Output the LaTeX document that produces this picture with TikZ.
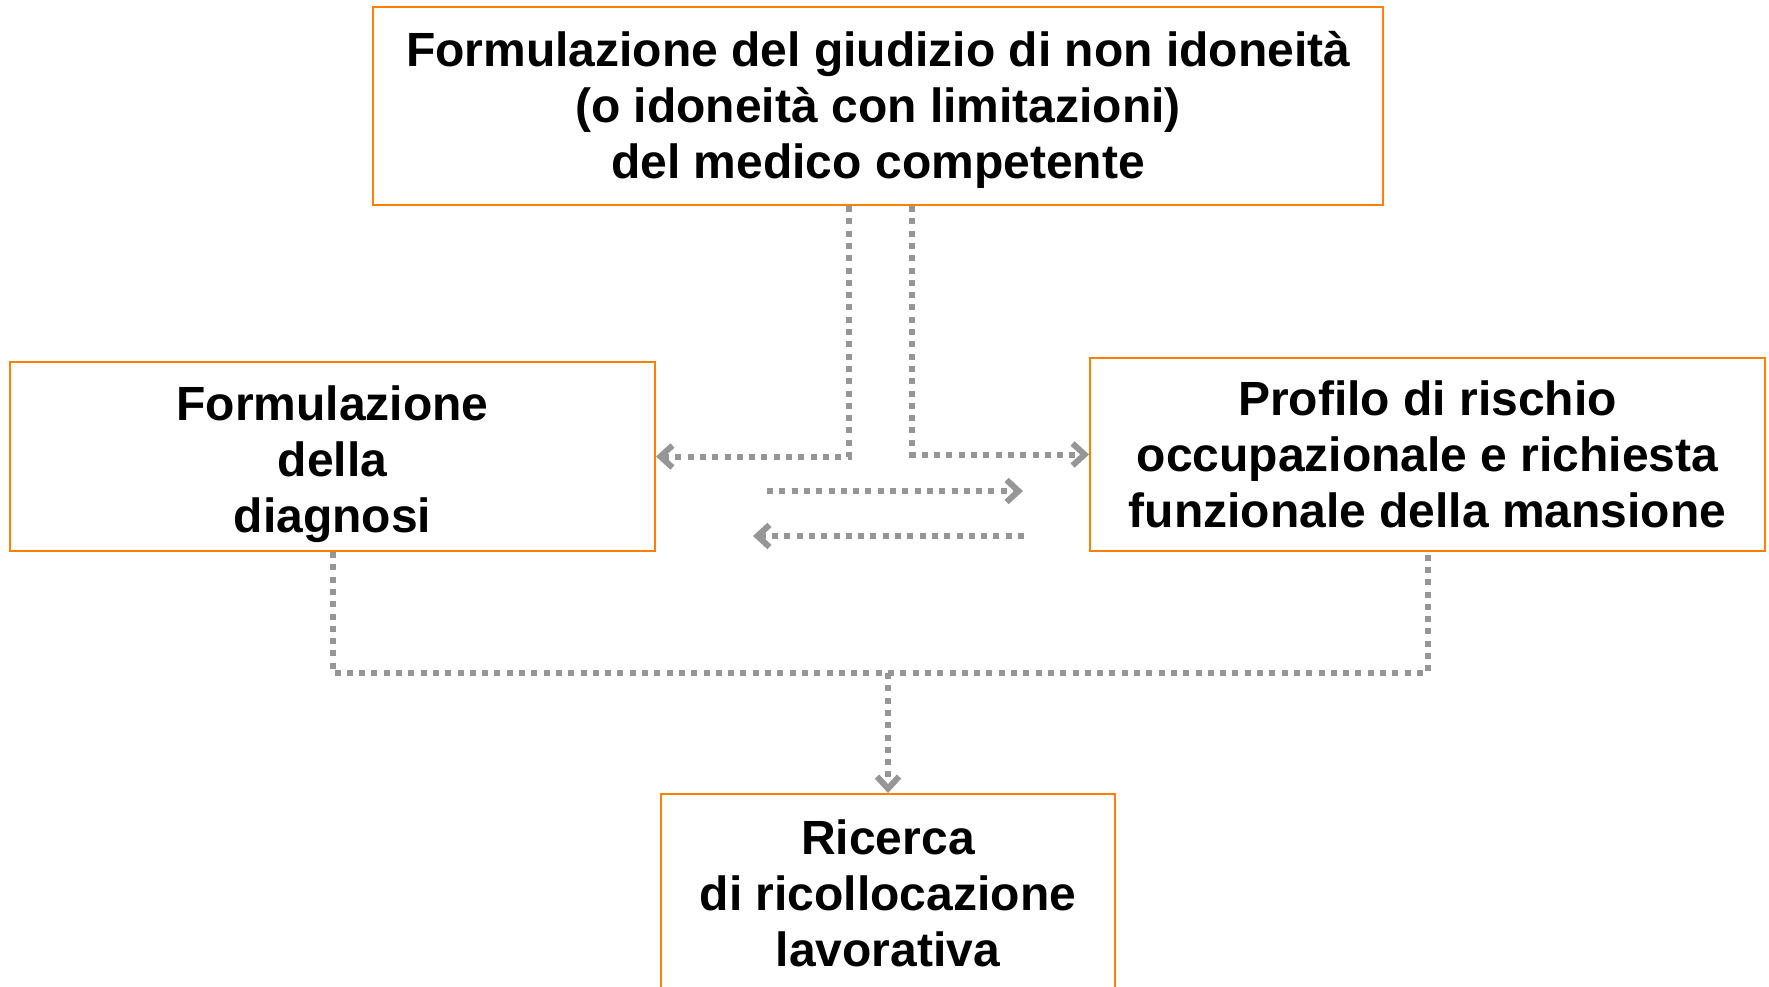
\documentclass[tikz,border=0pt]{standalone}
\usepackage{fontspec}
\setmainfont{Liberation Sans}
\usepackage{xcolor}
\usetikzlibrary{arrows.meta}
\definecolor{boxorange}{RGB}{255,128,0}
\definecolor{linkgray}{RGB}{150,150,150}

\begin{document}
\begin{tikzpicture}[x=1pt, y=-1pt,
  box/.style={draw=boxorange, line width=2pt, align=center, inner sep=0pt,
    font=\fontsize{48}{56}\selectfont\bfseries},
  link/.style={draw=linkgray, line width=6pt, dash pattern=on 6pt off 6.3pt,
    -{Straight Barb[length=12pt, width=22pt]}}]
  \clip (0,0) rectangle (1769,986);
  \useasboundingbox (0,0) rectangle (1769,986);

  % boxes
  \node[box, minimum width=1010pt, minimum height=198pt] (verdict) at (878,106)
    {\rule{0pt}{42pt}Formulazione del giudizio di non idoneità\\(o idoneità con limitazioni)\\del medico competente};
  \node[box, minimum width=645pt, minimum height=189pt] (diagnosis) at (332.5,456.5)
    {\rule{0pt}{51pt}Formulazione\\della\\diagnosi};
  \node[box, minimum width=675pt, minimum height=193pt] (risk) at (1427.5,454.5)
    {Profilo di rischio\\occupazionale e richiesta\\funzionale della mansione};
  \node[box, minimum width=454pt, minimum height=198pt] (relocation) at (888,893)
    {Ricerca\\di ricollocazione\\lavorativa};

  % from the verdict down to both sides
  \draw[link] ([xshift=-29pt]verdict.south) |- (diagnosis.east);
  \draw[link] ([xshift=34pt]verdict.south) |- (risk.west);

  % exchange between diagnosis and risk profile
  \coordinate (fwd start) at (767,491);
  \coordinate (fwd end) at (1023,491);
  \coordinate (back start) at (1024,536);
  \coordinate (back end) at (753,536);
  \draw[link] (fwd start) -- (fwd end);
  \draw[link] (back start) -- (back end);

  % both sides join into the search
  \coordinate (join) at (888,673);
  \draw[link, -] (diagnosis.south) |- (join) -| (risk.south);
  \draw[link] (join) -- (relocation.north);
\end{tikzpicture}
\end{document}
